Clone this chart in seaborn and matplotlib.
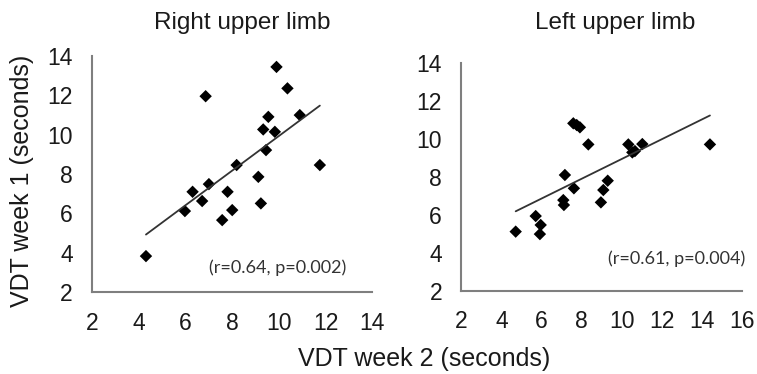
import numpy as np
import pandas as pd
import seaborn as sns
import matplotlib.pyplot as plt

# Right upper limb: VDT week 2 (x) vs week 1 (y), seconds
right_wk2 = [4.30, 5.97, 6.30, 6.71, 7.00, 6.86, 7.57, 7.80, 8.00, 8.19,
             9.12, 9.23, 9.33, 9.45, 9.55, 9.83, 9.90, 10.37, 10.90, 11.76]
right_wk1 = [3.83, 6.12, 7.10, 6.63, 7.49, 11.96, 5.66, 7.10, 6.17, 8.46,
             7.86, 6.51, 10.27, 9.22, 10.91, 10.15, 13.45, 12.36, 11.00, 8.46]

# Left upper limb
left_wk2 = [4.71, 5.71, 5.96, 5.92, 7.09, 7.12, 7.17, 7.62, 7.59, 7.76,
            7.92, 8.34, 8.97, 9.09, 9.31, 10.34, 10.54, 10.67, 11.04, 14.42]
left_wk1 = [5.11, 5.93, 5.46, 4.98, 6.77, 6.51, 8.09, 7.39, 10.81, 10.72,
            10.60, 9.70, 6.65, 7.30, 7.79, 9.70, 9.28, 9.35, 9.72, 9.70]

titles = ['Right upper limb', 'Left upper limb']
stats = ['(r=0.64, p=0.002)', '(r=0.61, p=0.004)']
x_ticks = [list(range(2, 15, 2)), list(range(2, 17, 2))]
y_ticks = list(range(2, 15, 2))

sns.set_style("white")
plt.rcParams['font.family'] = ['Liberation Sans', 'DejaVu Sans']
txt = '#1a1a1a'

fig = plt.figure(figsize=(7.57, 3.74), dpi=100)
ax1 = fig.add_axes([0.122, 0.219, 0.3695, 0.631])
ax2 = fig.add_axes([0.6096, 0.2227, 0.370, 0.6096])

panels = [(ax1, right_wk2, right_wk1), (ax2, left_wk2, left_wk1)]
stat_pos = [(0.909, 0.102), (1.012, 0.142)]
for i, (ax, xs, ys) in enumerate(panels):
    df = pd.DataFrame({'wk2': xs, 'wk1': ys})
    sns.regplot(data=df, x='wk2', y='wk1', ax=ax, ci=None, truncate=True,
                marker='D', color='black',
                scatter_kws={'s': 40, 'edgecolor': 'none', 'alpha': 1},
                line_kws={'color': '#333333', 'lw': 1.3})
    ax.set_xlim(x_ticks[i][0], x_ticks[i][-1])
    ax.set_ylim(2, 14)
    ax.set_xticks(x_ticks[i])
    ax.set_yticks(y_ticks)
    ax.tick_params(labelsize=16.5, colors=txt, length=0)
    ax.tick_params(axis='y', pad=14)
    ax.tick_params(axis='x', pad=14)
    ax.set_xlabel('')
    ax.set_ylabel('')
    sns.despine(ax=ax)
    for s in ['left', 'bottom']:
        ax.spines[s].set_color('#7f7f7f')
        ax.spines[s].set_linewidth(1.5)
    ax.text(stat_pos[i][0], stat_pos[i][1], stats[i], transform=ax.transAxes,
            ha='right', va='center', fontsize=13, color='#333333',
            family=['Lato', 'DejaVu Sans'], clip_on=False)

fig.text(242 / 757, 1 - 23 / 374, titles[0], ha='center', va='center',
         fontsize=17.5, color=txt)
fig.text(615 / 757, 1 - 23 / 374, titles[1], ha='center', va='center',
         fontsize=17.5, color=txt)
fig.text(424 / 757, 1 - 359 / 374, 'VDT week 2 (seconds)', ha='center',
         va='center', fontsize=18, color=txt)
fig.text(22 / 757, 1 - 181 / 374, 'VDT week 1 (seconds)', ha='center',
         va='center', rotation=90, fontsize=18, color=txt)

fig.savefig('out.png', dpi=100)
